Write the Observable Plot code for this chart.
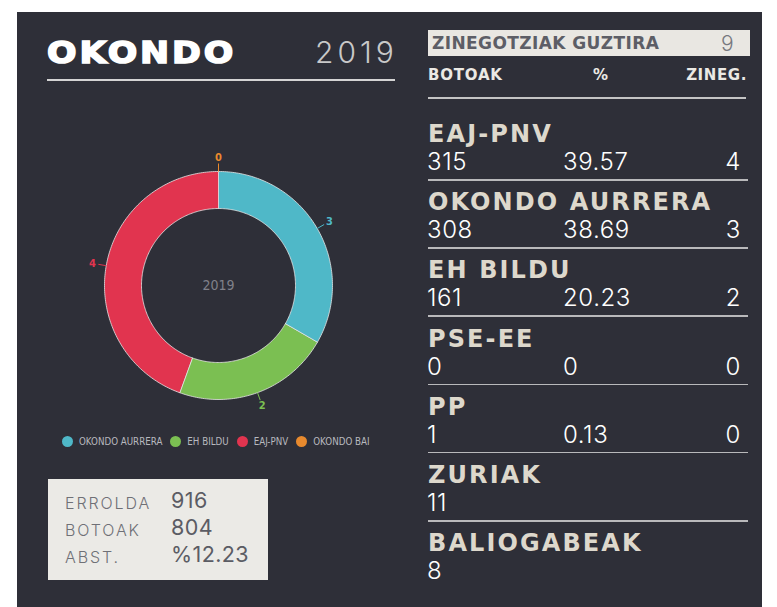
<!DOCTYPE html>
<html>
<head>
<meta charset="utf-8">
<script src="https://cdn.jsdelivr.net/npm/d3@7"></script>
<script src="https://cdn.jsdelivr.net/npm/@observablehq/plot@0.6"></script>
<style>
  html, body { margin:0; padding:0; background:#ffffff; }
  body { width:777px; height:607px; position:relative; overflow:hidden; font-family:"Inter","DejaVu Sans",sans-serif; }
  .abs { position:absolute; white-space:nowrap; line-height:1; }
  #panel { position:absolute; left:17px; top:12px; width:745px; height:595px; background:#2e2f38; }
  .name { font-family:"DejaVu Sans",sans-serif; font-weight:700; color:#ddd8cc; font-size:24px; letter-spacing:2.1px; }
  .val { font-family:"Inter",sans-serif; font-weight:300; color:#ffffff; font-size:24px; letter-spacing:0.6px; }
  .rule { position:absolute; height:1.5px; background:#b9b9bb; }
</style>
</head>
<body>
<div id="panel"></div>
<div id="content"></div>
<script>
// ---- data ----
const municipality = "OKONDO";
const year = "2019";
const totalSeats = 9;
const tableParties = ["EAJ-PNV", "OKONDO AURRERA", "EH BILDU", "PSE-EE", "PP"];
const tableVotes = ["315", "308", "161", "0", "1"];
const tablePct = ["39.57", "38.69", "20.23", "0", "0.13"];
const tableSeats = ["4", "3", "2", "0", "0"];
const extraRows = ["ZURIAK", "BALIOGABEAK"];
const extraValues = ["11", "8"];
const pieParties = ["OKONDO AURRERA", "EH BILDU", "EAJ-PNV", "OKONDO BAI"];
const pieSeats = [3, 2, 4, 0];
const pieColors = ["#4fb8c8", "#7bbf52", "#e1344f", "#e88a2e"];
const statLabels = ["ERROLDA", "BOTOAK", "ABST."];
const statValues = ["916", "804", "%12.23"];
const headers = ["BOTOAK", "%", "ZINEG."];

const content = document.getElementById("content");
function el(tag, cls, style, text) {
  const e = document.createElement(tag);
  if (cls) e.className = cls;
  Object.assign(e.style, style);
  if (text != null) e.textContent = text;
  content.appendChild(e);
  return e;
}

// ---- left header ----
el("div", "abs", {left:"47px", top:"37px", fontFamily:"DejaVu Sans", fontWeight:"700", fontSize:"31px", letterSpacing:"2.6px", color:"#ffffff", webkitTextStroke:"1.6px #ffffff", transform:"scaleX(1.12)", transformOrigin:"left center"}, municipality);
el("div", "abs", {left:"315px", top:"37px", fontFamily:"Inter", fontWeight:"300", fontSize:"30px", letterSpacing:"4px", color:"#c9c9c9"}, year);
el("div", "rule", {left:"47px", top:"79px", width:"348px", height:"2px", background:"#d4d4d4"});

// ---- donut ----
const total = d3.sum(pieSeats);
const R = 114, r0 = 77;
let acc = 0;
const slices = pieParties.map((p, i) => {
  const a0 = acc / total * 2 * Math.PI;
  acc += pieSeats[i];
  const a1 = acc / total * 2 * Math.PI;
  return {party: p, seats: pieSeats[i], a0, a1, mid: (a0 + a1) / 2};
});
const poly = [];
for (const s of slices) {
  if (s.seats === 0) continue;
  const n = Math.max(2, Math.ceil((s.a1 - s.a0) / (Math.PI / 180)));
  for (let k = 0; k <= n; k++) { const a = s.a0 + (s.a1 - s.a0) * k / n; poly.push({party: s.party, x: R * Math.sin(a), y: R * Math.cos(a)}); }
  for (let k = n; k >= 0; k--) { const a = s.a0 + (s.a1 - s.a0) * k / n; poly.push({party: s.party, x: r0 * Math.sin(a), y: r0 * Math.cos(a)}); }
}
const labels = slices.map(s => ({party: s.party, label: String(s.seats),
  x1: (R) * Math.sin(s.mid), y1: (R) * Math.cos(s.mid),
  x2: (R + 8) * Math.sin(s.mid), y2: (R + 8) * Math.cos(s.mid),
  x: (R + 14) * Math.sin(s.mid), y: (R + 14) * Math.cos(s.mid)}));

const pie = Plot.plot({
  width: 300, height: 300, margin: 0,
  x: {domain: [-150, 150], axis: null},
  y: {domain: [-150, 150], axis: null},
  color: {domain: pieParties, range: pieColors},
  style: {background: "transparent", overflow: "visible"},
  marks: [
    Plot.line(poly, {x: "x", y: "y", z: "party", fill: "party", stroke: "#e6e6e6", strokeWidth: 0.8, curve: "linear-closed"}),
    Plot.link(labels, {x1: "x1", y1: "y1", x2: "x2", y2: "y2", stroke: "party", strokeWidth: 1}),
    Plot.text(labels, {x: "x", y: "y", text: "label", fill: "party", fontSize: 11, fontFamily: "DejaVu Sans Condensed", fontWeight: "bold"}),
    Plot.text([year], {x: () => 0, y: () => 0, text: d => d, fill: "#80818a", fontSize: 14, fontFamily: "DejaVu Sans Condensed"})
  ]
});
const pieWrap = el("div", "", {position: "absolute", left: "68px", top: "135px", width: "300px", height: "300px"});
pieWrap.appendChild(pie);

// ---- legend from the plot's color scale ----
const cs = pie.scale("color");
const legend = el("div", "abs", {left: "62px", top: "436px", display: "flex", alignItems: "center", fontFamily: "DejaVu Sans Condensed", fontSize: "9.7px", color: "#b8b9bf"});
cs.domain.forEach((d, i) => {
  const dot = document.createElement("span");
  Object.assign(dot.style, {display: "inline-block", width: "11px", height: "11px", borderRadius: "50%", background: cs.range[i], marginRight: "6px", marginLeft: i ? "8px" : "0"});
  const t = document.createElement("span");
  t.textContent = d;
  legend.appendChild(dot); legend.appendChild(t);
});

// ---- stats box ----
el("div", "", {position: "absolute", left: "48px", top: "479px", width: "220px", height: "101px", background: "#ebeae6"});
statLabels.forEach((l, i) => {
  el("div", "abs", {left: "65px", top: (495 + i * 27) + "px", fontFamily: "Inter", fontWeight: "300", fontSize: "16px", letterSpacing: "1.9px", color: "#6f7076"}, l);
  el("div", "abs", {left: "171px", top: (490 + i * 27) + "px", fontFamily: "Inter", fontWeight: "400", fontSize: "21.5px", letterSpacing: "0.4px", color: "#5b5c64"}, statValues[i]);
});

// ---- right table ----
el("div", "", {position: "absolute", left: "428px", top: "30px", width: "322px", height: "26px", background: "#e9e7e2"});
el("div", "abs", {left: "432px", top: "35px", fontFamily: "DejaVu Sans", fontWeight: "700", fontSize: "17px", letterSpacing: "0.4px", color: "#5d5e66"}, "ZINEGOTZIAK GUZTIRA");
el("div", "abs", {left: "721px", top: "33px", fontFamily: "Inter", fontWeight: "300", fontSize: "21px", color: "#77787e"}, String(totalSeats));
el("div", "abs", {left: "428px", top: "68px", fontFamily: "DejaVu Sans", fontWeight: "700", fontSize: "15px", letterSpacing: "0.8px", color: "#ebe9e4"}, headers[0]);
el("div", "abs", {left: "593px", top: "68px", fontFamily: "DejaVu Sans", fontWeight: "700", fontSize: "15px", color: "#ebe9e4"}, headers[1]);
el("div", "abs", {right: (777 - 747) + "px", top: "68px", fontFamily: "DejaVu Sans", fontWeight: "700", fontSize: "15px", letterSpacing: "0.6px", color: "#ebe9e4"}, headers[2]);
el("div", "rule", {left: "428px", top: "97px", width: "318px", height: "2px", background: "#c4c4c4"});

const step = 68.2;
const rows = tableParties.map((p, i) => ({name: p, cols: [tableVotes[i], tablePct[i], tableSeats[i]]}))
  .concat(extraRows.map((p, i) => ({name: p, cols: [extraValues[i]]})));
rows.forEach((row, i) => {
  const vb = 171 + step * i;       // value baseline
  el("div", "abs name", {left: "428px", top: (vb - 28 - 21) + "px"}, row.name);
  el("div", "abs val", {left: "427px", top: (vb - 21) + "px"}, row.cols[0]);
  if (row.cols.length > 1) {
    el("div", "abs val", {left: "563px", top: (vb - 21) + "px"}, row.cols[1]);
    el("div", "abs val", {right: (777 - 741) + "px", top: (vb - 21) + "px"}, row.cols[2]);
  }
  if (i < rows.length - 1) el("div", "rule", {left: "428px", top: (vb + 8) + "px", width: "320px"});
});
</script>
</body>
</html>
